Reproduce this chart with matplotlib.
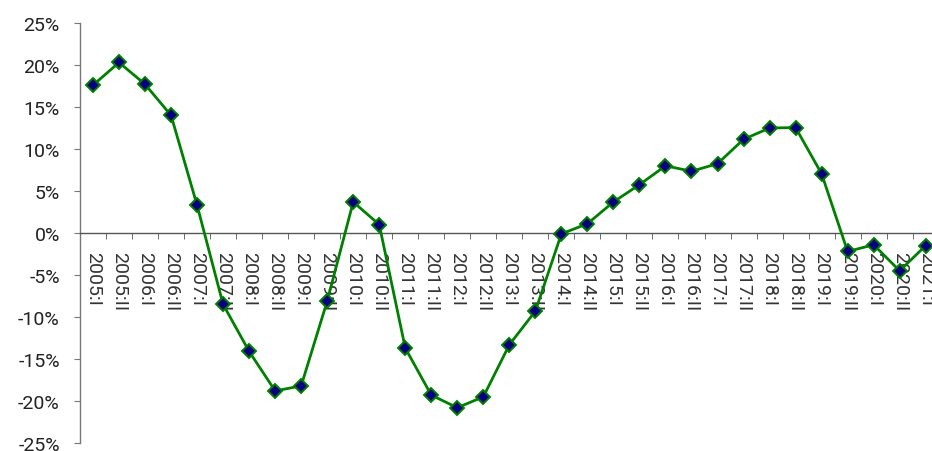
import matplotlib
matplotlib.use('Agg')
import matplotlib.pyplot as plt
from matplotlib.ticker import FuncFormatter, FixedLocator

plt.rcParams['font.family'] = ['Roboto', 'DejaVu Sans']

# semiannual periods
periods = []
for yr in range(2005, 2021):
    periods += ['%d:I' % yr, '%d:II' % yr]
periods.append('2021:I')

# growth rate, percent
growth = [17.6, 20.3, 17.7, 14.0, 3.3, -8.5, -14.1, -18.8, -18.2, -8.1,
          3.7, 1.0, -13.7, -19.3, -20.8, -19.5, -13.3, -9.3, -0.1, 1.1,
          3.7, 5.75, 8.0, 7.35, 8.25, 11.15, 12.5, 12.55, 7.05, -2.2,
          -1.4, -4.5, -1.5]


def plot():
    fig = plt.figure(figsize=(9.32, 4.52), dpi=100)
    W, H = 932, 452
    left, right, top, bottom = 80, 938.7, 24, 444
    ax = fig.add_axes([left / W, (H - bottom) / H, (right - left) / W, (bottom - top) / H])

    x = list(range(len(periods)))
    ax.plot(x, growth, color='#008000', lw=2.0, marker='D', ms=7.5,
            mfc='#000080', mec='#008000', mew=1.4, zorder=3, clip_on=False)

    ax.set_xlim(-0.5, len(periods) - 0.5)
    ax.set_ylim(-25, 25)
    ax.yaxis.set_major_locator(FixedLocator(range(-25, 26, 5)))
    ax.yaxis.set_major_formatter(FuncFormatter(lambda v, p: '%d%%' % v))

    for s in ['top', 'right']:
        ax.spines[s].set_visible(False)
    ax.spines['bottom'].set_position(('data', 0))
    ax.spines['bottom'].set_color('#555555')
    ax.spines['left'].set_color('#777777')
    ax.spines['bottom'].set_linewidth(1.0)
    ax.spines['left'].set_linewidth(1.0)

    ax.set_xticks(x)
    ax.set_xticklabels(periods, rotation=270, ha='center', va='top',
                       fontsize=14, color='#333333')
    ax.set_xticks([i - 0.5 for i in range(len(periods) + 1)], minor=True)
    ax.tick_params(axis='x', which='major', length=0, pad=13)
    ax.tick_params(axis='x', which='minor', length=4.5, color='#555555', direction='out')
    ax.tick_params(axis='y', length=4.5, color='#777777', direction='out',
                   labelsize=14, labelcolor='#222222', pad=10)

    fig.savefig('out.png', dpi=100)


if __name__ == '__main__':
    plot()
